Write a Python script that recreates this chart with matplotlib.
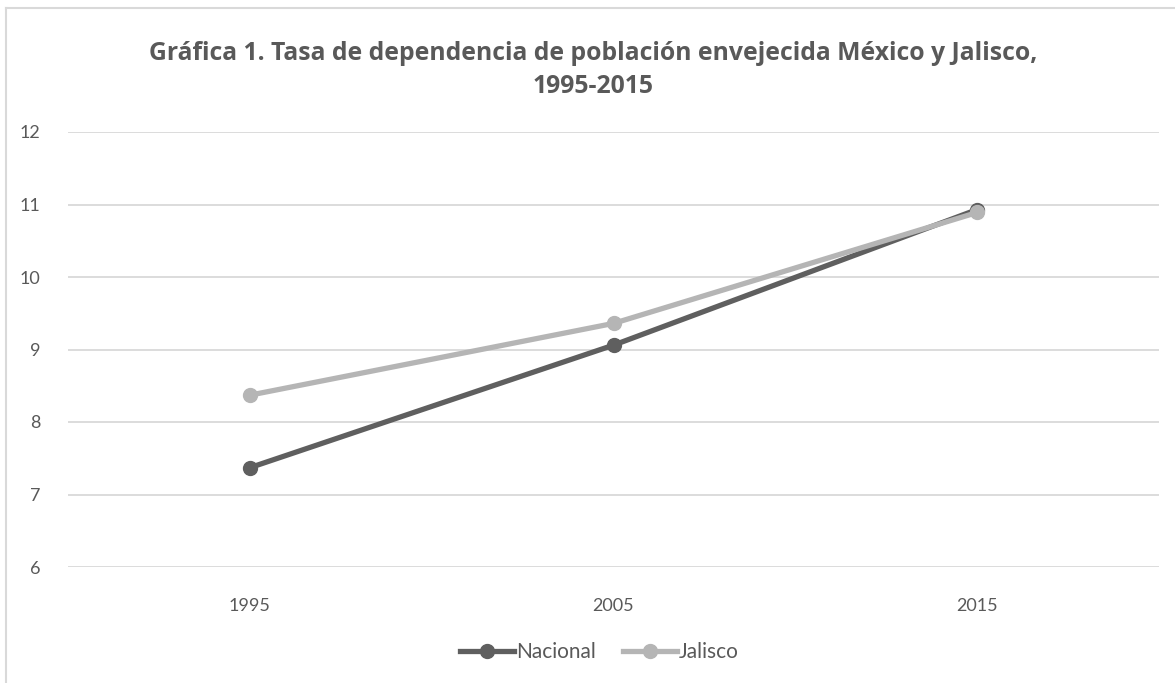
import matplotlib
matplotlib.use("Agg")
import matplotlib.pyplot as plt
from matplotlib.lines import Line2D

years = ["1995", "2005", "2015"]
nacional = [7.37, 9.06, 10.93]
jalisco = [8.37, 9.36, 10.89]
y_ticks = [6, 7, 8, 9, 10, 11, 12]

TXT = "#595959"
plt.rcParams["font.family"] = ["Lato", "DejaVu Sans"]

fig = plt.figure(figsize=(11.75, 6.83), dpi=100)
ax = fig.add_axes([68 / 1175, 1 - 567 / 683, (1159 - 68) / 1175, (567 - 132) / 683])

xs = range(len(years))
ax.plot(xs, nacional, color="#5f5f5f", lw=3.8, marker="o", ms=10,
        solid_capstyle="round", label="Nacional", zorder=3)
ax.plot(xs, jalisco, color="#b5b5b5", lw=3.8, marker="o", ms=10,
        solid_capstyle="round", label="Jalisco", zorder=3)

ax.set_xlim(-0.5, len(years) - 0.5)
ax.set_ylim(6, 12)
ax.set_yticks(y_ticks)
ax.set_xticks(list(xs))
ax.set_xticklabels(years)
ax.grid(axis="y", color="#d9d9d9", lw=1.3)
ax.set_axisbelow(True)
for s in ax.spines.values():
    s.set_visible(False)
ax.tick_params(length=0, labelsize=13, labelcolor=TXT)
ax.tick_params(axis="y", pad=20)
ax.tick_params(axis="x", pad=22)

fig.text(0.505, 1 - 70 / 683, "Gráfica 1. Tasa de dependencia de población envejecida México y Jalisco,\n1995-2015",
         ha="center", va="center", fontsize=17.8, fontweight="bold", color=TXT, linespacing=1.45,
         family=["Open Sans", "DejaVu Sans"])

handles = [Line2D([], [], color="#5f5f5f", lw=3.8, marker="o", ms=10),
           Line2D([], [], color="#b5b5b5", lw=3.8, marker="o", ms=10)]
fig.legend(handles, ["Nacional", "Jalisco"], loc="center", bbox_to_anchor=(0.51, 1 - 652 / 683),
           ncol=2, frameon=False, fontsize=15, labelcolor=TXT, handlelength=2.6,
           handletextpad=0.1, columnspacing=1.3)

# chart frame (left and top edges visible in the reference)
fig.add_artist(Line2D([6 / 1175, 6 / 1175], [0, 1 - 8 / 683], color="#d9d9d9", lw=1.5))
fig.add_artist(Line2D([6 / 1175, 1], [1 - 8 / 683, 1 - 8 / 683], color="#d9d9d9", lw=1.5))

fig.savefig("out.png", dpi=100)
